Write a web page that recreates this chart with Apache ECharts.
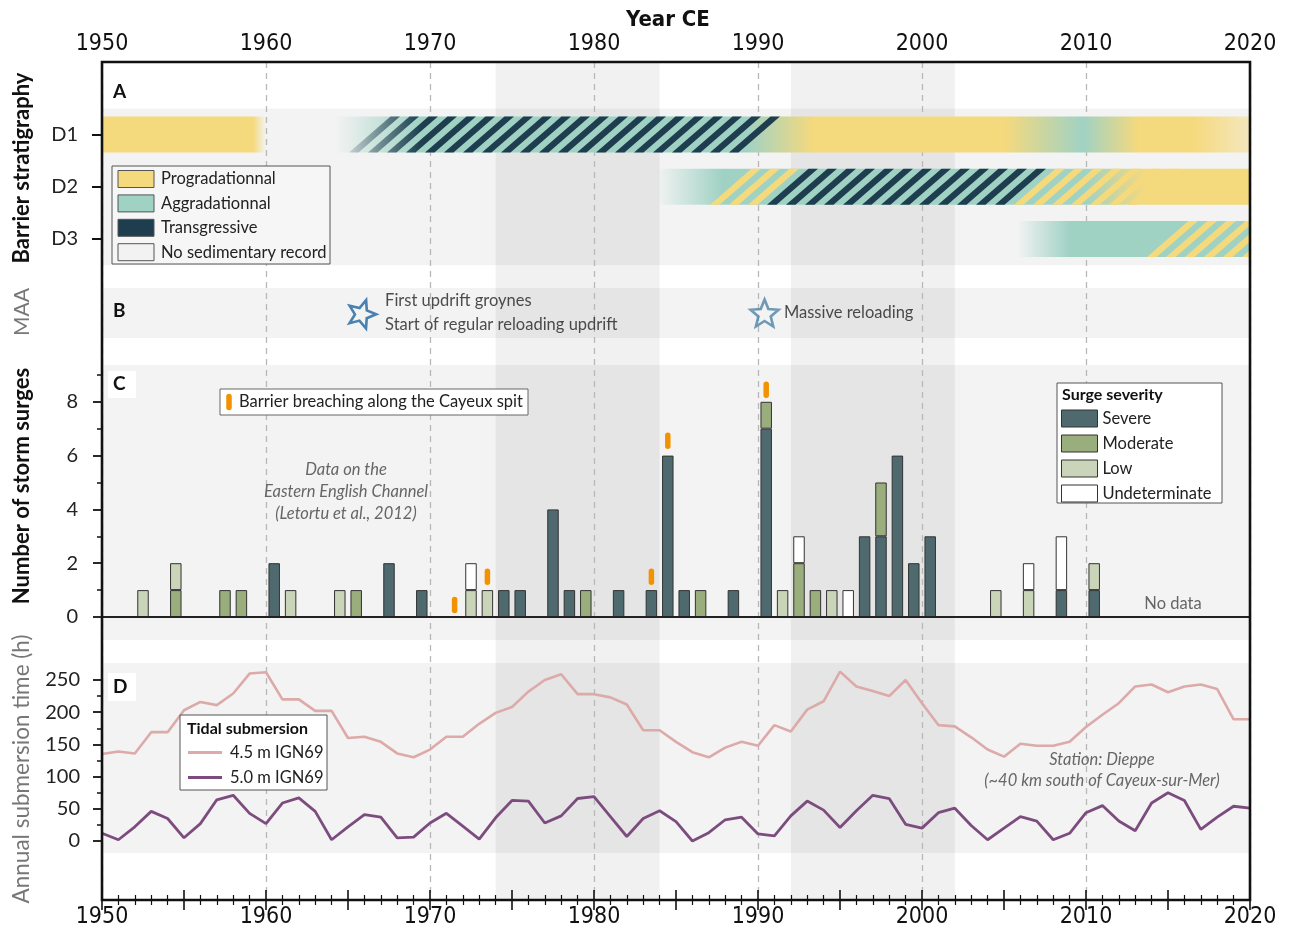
<!DOCTYPE html>
<html><head><meta charset="utf-8">
<script src="https://cdn.jsdelivr.net/npm/echarts@6/dist/echarts.min.js"></script>
<style>html,body{margin:0;padding:0;background:#fff}#c{width:1290px;height:929px}</style>
</head><body><div id="c"></div>
<script>
// ================= DATA =================
// Panel A: barrier stratigraphy (rows: 1=D1, 2=D2, 3=D3)
const stratRows = ['D1', 'D2', 'D3'];
// base colour ramps: [row, fromYear, toYear, stops [year, facies, opacity]]
const stratBase = [
  [1, 1950, 1960, [[1950, 'P', 1], [1959.2, 'P', 1], [1960, 'P', 0]]],
  [1, 1964.2, 2020, [[1964.2, 'A', 0], [1969.5, 'A', 1], [1989.3, 'A', 1], [1993.4, 'P', 1], [2005, 'P', 1], [2009.8, 'A', 1], [2013.2, 'P', 1], [2016.5, 'P', 1], [2020, 'P', 0.45]]],
  [2, 1983.8, 2020, [[1983.8, 'A', 0], [1987.8, 'A', 1], [2010, 'A', 1], [2013.6, 'P', 1], [2020, 'P', 1]]],
  [3, 2005.8, 2020, [[2005.8, 'A', 0], [2009, 'A', 1], [2020, 'A', 1]]]
];
// hatched intervals: [row, fromYear, toYear, stripe facies, fade-in years or null]
const stratHatch = [
  [1, 1964.2, 1988.7, 'T', [1964.2, 1969.5]],
  [2, 1986.3, 1990.5, 'P', null],
  [2, 1990.5, 2004.7, 'T', null],
  [2, 2004.7, 2013.5, 'P', null],
  [3, 2013.1, 2021, 'P', null]
];
const shadedPeriods = [[1974, 1984], [1992, 2002]];

// Panel B: management actions
const maaYears = [1965.85, 1990.4];
const maaLabels = ['First updrift groynes\nStart of regular reloading updrift', 'Massive reloading'];

// Panel C: storm surges per year (1950-2019)
const surgeYears = ['1950','1951','1952','1953','1954','1955','1956','1957','1958','1959',
 '1960','1961','1962','1963','1964','1965','1966','1967','1968','1969',
 '1970','1971','1972','1973','1974','1975','1976','1977','1978','1979',
 '1980','1981','1982','1983','1984','1985','1986','1987','1988','1989',
 '1990','1991','1992','1993','1994','1995','1996','1997','1998','1999',
 '2000','2001','2002','2003','2004','2005','2006','2007','2008','2009',
 '2010','2011','2012','2013','2014','2015','2016','2017','2018','2019'];
const severe = [
 0,0,0,0,0,0,0,0,0,0,
 2,0,0,0,0,0,0,2,0,1,
 0,0,0,0,1,1,0,4,1,0,
 0,1,0,1,6,1,0,0,1,0,
 7,0,0,0,0,0,3,3,6,2,
 3,0,0,0,0,0,0,0,1,0,
 1,0,0,0,0,0,0,0,0,0];
const moderate = [
 0,0,0,0,1,0,0,1,1,0,
 0,0,0,0,0,1,0,0,0,0,
 0,0,0,0,0,0,0,0,0,1,
 0,0,0,0,0,0,1,0,0,0,
 1,0,2,1,0,0,0,2,0,0,
 0,0,0,0,0,0,0,0,0,0,
 0,0,0,0,0,0,0,0,0,0];
const low = [
 0,0,1,0,1,0,0,0,0,0,
 0,1,0,0,1,0,0,0,0,0,
 0,0,1,1,0,0,0,0,0,0,
 0,0,0,0,0,0,0,0,0,0,
 0,1,0,0,1,0,0,0,0,0,
 0,0,0,0,1,0,1,0,0,0,
 1,0,0,0,0,0,0,0,0,0];
const undet = [
 0,0,0,0,0,0,0,0,0,0,
 0,0,0,0,0,0,0,0,0,0,
 0,0,1,0,0,0,0,0,0,0,
 0,0,0,0,0,0,0,0,0,0,
 0,0,1,0,0,1,0,0,0,0,
 0,0,0,0,0,0,1,0,2,0,
 0,0,0,0,0,0,0,0,0,0];
const breachYears = ['1971', '1973', '1983', '1984', '1990'];
const breachLevel = [0.45, 1.5, 1.5, 6.55, 8.45];

// Panel D: annual submersion time (h), Dieppe
const tideYears = [1950,1951,1952,1953,1954,1955,1956,1957,1958,1959,
 1960,1961,1962,1963,1964,1965,1966,1967,1968,1969,
 1970,1971,1972,1973,1974,1975,1976,1977,1978,1979,
 1980,1981,1982,1983,1984,1985,1986,1987,1988,1989,
 1990,1991,1992,1993,1994,1995,1996,1997,1998,1999,
 2000,2001,2002,2003,2004,2005,2006,2007,2008,2009,
 2010,2011,2012,2013,2014,2015,2016,2017,2018,2019,2020];
const sub45 = [135,139,136,169,169,203,216,211,229,260,
 262,220,220,202,202,160,162,154,136,130,
 142,162,162,182,199,208,232,250,259,228,
 228,223,212,172,172,154,138,130,145,154,
 148,180,170,204,217,263,240,233,225,250,
 214,180,178,161,142,131,151,148,148,154,
 177,196,214,240,243,231,240,243,236,189,189];
const sub50 = [12,2,22,46,35,5,27,64,71,43,
 27,59,67,46,2,22,41,37,5,6,
 28,43,23,3,36,63,62,28,39,66,
 69,38,7,35,47,30,0,13,33,37,
 11,8,39,62,48,21,47,71,66,26,
 20,44,51,24,2,20,38,31,2,12,
 44,55,31,16,59,75,63,18,37,54,51];

// ================= STYLE =================
const FONT = 'Lato, "Noto Sans", sans-serif';
const NARROW = '"Liberation Sans Narrow", "DejaVu Sans Condensed", Lato, sans-serif';
const FAC = {P: [245, 217, 125], A: [160, 210, 196], T: [30, 62, 80]};
const rgba = (k, a) => `rgba(${FAC[k][0]},${FAC[k][1]},${FAC[k][2]},${a})`;
const PANEL_BG = '#f3f3f3';
const BAR_FRAC = 0.69, STRIPE_P = 19, SLANT = 1.15;

const stratItems = [];
stratBase.forEach(b => stratItems.push({kind: 'base', row: b[0], from: b[1], to: b[2], stops: b[3]}));
stratHatch.forEach(h => stratItems.push({kind: 'hatch', row: h[0], from: h[1], to: h[2], stripe: h[3], fadeIn: h[4]}));

function renderStrat(params, api) {
  const it = stratItems[params.dataIndex];
  const row = it.row;
  const h = api.size([0, 1])[1] * BAR_FRAC;
  const yc = api.coord([1950, row])[1];
  const yt = yc - h / 2, yb = yc + h / 2;
  const px = y => api.coord([y, row])[0];
  if (it.kind === 'base') {
    const x1 = px(it.from), x2 = px(it.to);
    const stops = it.stops.map(s => ({offset: (s[0] - it.from) / (it.to - it.from), color: rgba(s[1], s[2])}));
    return {type: 'rect', shape: {x: x1, y: yt, width: x2 - x1, height: h},
      style: {fill: {type: 'linear', x: x1, y: 0, x2: x2, y2: 0, global: true, colorStops: stops}}};
  }
  const x0 = px(1950), xs = px(it.from), xe = px(it.to);
  const P = STRIPE_P, w = P / 2, sl = h * SLANT;
  let fill = rgba(it.stripe, 1);
  if (it.fadeIn) {
    fill = {type: 'linear', x: px(it.fadeIn[0]), y: 0, x2: px(it.fadeIn[1]), y2: 0, global: true,
      colorStops: [{offset: 0, color: rgba(it.stripe, 0)}, {offset: 1, color: rgba(it.stripe, 1)}]};
  }
  const children = [];
  const k0 = Math.ceil((xs - x0) / P - 1e-6), k1 = Math.ceil((xe - x0) / P - 1e-6);
  for (let k = k0; k < k1; k++) {
    const sx = x0 + k * P;
    children.push({type: 'polygon', shape: {points: [[sx, yb], [sx + w, yb], [sx + w + sl, yt], [sx + sl, yt]]}, style: {fill: fill}});
  }
  return {type: 'group', children: children};
}

function renderBreach(params, api) {
  const p = api.coord([api.value(0), api.value(1)]);
  const h = api.size([0, 0.41])[1];
  return {type: 'line', shape: {x1: p[0], y1: p[1] - h / 2, x2: p[0], y2: p[1] + h / 2},
    style: {stroke: '#f39200', lineWidth: 5.5, lineCap: 'round'}};
}

const nz = arr => arr.map(v => v === 0 ? '-' : v);
const STAR = 'path://M0,-10L2.6,-3.6L9.51,-3.09L4.2,1.4L5.88,8.09L0,4.4L-5.88,8.09L-4.2,1.4L-9.51,-3.09L-2.6,-3.6Z';

const yearTickAxis = (pos) => ({
  gridIndex: 4, type: 'value', position: pos, min: 1950, max: 2020, interval: 5, z: 6,
  axisLine: {show: false},
  axisTick: {show: true, inside: true, length: 10, lineStyle: {color: '#111', width: 1.6}},
  minorTick: {show: true, splitNumber: 5, length: 5, lineStyle: {color: '#111', width: 1.2}},
  axisLabel: {show: true, margin: 6, fontSize: 23, fontFamily: NARROW, color: '#111',
    formatter: v => (v % 10 === 0 ? String(v) : '')},
  splitLine: {show: false}
});

const textEl = (x, y, text, opt) => Object.assign({type: 'text', x: x, y: y, z: 6,
  style: Object.assign({text: text, fontFamily: FONT, fontSize: 16.5, fill: '#222', textAlign: 'left', textVerticalAlign: 'middle'}, opt || {})});
const rectEl = (x, y, w, h, fill, stroke) => ({type: 'rect', z: 4, shape: {x: x, y: y, width: w, height: h},
  style: {fill: fill, stroke: stroke || '#555', lineWidth: 1}});

const legendA = [['Progradationnal', rgba('P', 1)], ['Aggradationnal', rgba('A', 1)], ['Transgressive', rgba('T', 1)], ['No sedimentary record', '#f2f2f2']];

const graphics = [
  textEl(668, 20, 'Year CE', {fontFamily: NARROW, fontSize: 22, fontWeight: 'bold', fill: '#111', textAlign: 'center'}),
  Object.assign(textEl(22, 168, 'Barrier stratigraphy', {fontSize: 22, fontWeight: 'bold', fill: '#111', textAlign: 'center'}), {rotation: Math.PI / 2}),
  Object.assign(textEl(22, 312, 'MAA', {fontSize: 21, fill: '#777', textAlign: 'center'}), {rotation: Math.PI / 2}),
  Object.assign(textEl(22, 486, 'Number of storm surges', {fontSize: 22, fontWeight: 'bold', fill: '#111', textAlign: 'center'}), {rotation: Math.PI / 2}),
  Object.assign(textEl(22, 769, 'Annual submersion time (h)', {fontSize: 22.5, fill: '#777', textAlign: 'center'}), {rotation: Math.PI / 2}),
  // panel letters
  textEl(113, 92, 'A', {fontSize: 19, fontWeight: 'bold', fill: '#111'}),
  textEl(113, 311, 'B', {fontSize: 19, fontWeight: 'bold', fill: '#111'}),
  {type: 'rect', z: 4, shape: {x: 108, y: 371, width: 28, height: 27}, style: {fill: '#fff'}},
  textEl(113, 384, 'C', {fontSize: 19, fontWeight: 'bold', fill: '#111'}),
  {type: 'rect', z: 4, shape: {x: 108, y: 673, width: 28, height: 28}, style: {fill: '#fff'}},
  textEl(113, 687, 'D', {fontSize: 19, fontWeight: 'bold', fill: '#111'}),
  // legend A
  rectEl(112, 166, 218, 98, '#f6f6f6', '#555')
];
legendA.forEach((l, i) => {
  const cy = 179 + i * 24.4;
  graphics.push(Object.assign(rectEl(118, cy - 8.5, 36, 17, l[1], '#555'), {z: 5}));
  graphics.push(textEl(161, cy, l[0], {fontSize: 16.5}));
});
graphics.push(
  // breach legend
  rectEl(220, 389, 308, 26, '#fff', '#666'),
  {type: 'line', z: 6, shape: {x1: 229, y1: 396.5, x2: 229, y2: 407.5}, style: {stroke: '#f39200', lineWidth: 5.5, lineCap: 'round'}},
  textEl(239, 402, 'Barrier breaching along the Cayeux spit', {fontSize: 16.5}),
  // surge legend box
  rectEl(1057, 383, 165, 120, '#fff', '#555'),
  textEl(1062, 395, 'Surge severity', {fontSize: 16, fontWeight: 'bold', fill: '#111'}),
  // tidal legend box
  rectEl(180, 715, 147, 75, '#fff', '#555'),
  textEl(187, 729, 'Tidal submersion', {fontSize: 16, fontWeight: 'bold', fill: '#111'}),
  // annotations
  textEl(346, 492, 'Data on the\nEastern English Channel\n(Letortu et al., 2012)', {fontSize: 16.5, fontStyle: 'italic', fill: '#666', textAlign: 'center', lineHeight: 22}),
  textEl(1173, 604, 'No data', {fontSize: 16.5, fill: '#666', textAlign: 'center'}),
  textEl(1102, 770, 'Station: Dieppe\n(~40 km south of Cayeux-sur-Mer)', {fontSize: 16.5, fontStyle: 'italic', fill: '#666', textAlign: 'center', lineHeight: 21})
);

const option = {
  animation: false,
  backgroundColor: '#fff',
  textStyle: {fontFamily: FONT},
  grid: [
    {left: 102, right: 40, top: 108.4, height: 156.75, show: true, backgroundColor: PANEL_BG, borderWidth: 0, z: 0},
    {left: 102, right: 40, top: 288, height: 50, show: true, backgroundColor: PANEL_BG, borderWidth: 0, z: 0},
    {left: 102, right: 40, top: 365, height: 275, show: true, backgroundColor: PANEL_BG, borderWidth: 0, z: 0},
    {left: 102, right: 40, top: 663, height: 190, show: true, backgroundColor: PANEL_BG, borderWidth: 0, z: 0},
    {left: 102, right: 40, top: 62, height: 838, show: true, backgroundColor: 'transparent', borderColor: '#111', borderWidth: 2.6, z: 10}
  ],
  xAxis: [
    {gridIndex: 0, type: 'value', min: 1950, max: 2020, show: false},
    {gridIndex: 1, type: 'value', min: 1950, max: 2020, show: false},
    {gridIndex: 2, type: 'category', data: surgeYears, boundaryGap: true, z: 4,
      axisLine: {show: true, onZero: true, lineStyle: {color: '#222', width: 2}},
      axisTick: {show: false}, axisLabel: {show: false}, splitLine: {show: false}},
    {gridIndex: 3, type: 'value', min: 1950, max: 2020, show: false},
    yearTickAxis('top'),
    yearTickAxis('bottom'),
    {gridIndex: 4, type: 'value', min: 1950, max: 2020, interval: 10, position: 'bottom', z: 2,
      axisLine: {show: false}, axisTick: {show: false}, axisLabel: {show: false},
      splitLine: {show: true, lineStyle: {color: '#b8b8b8', width: 1.3, type: [6, 5]}}}
  ],
  yAxis: [
    {gridIndex: 0, type: 'value', position: 'left', min: 0.5, max: 3.5, inverse: true, z: 6,
      axisLine: {show: false}, splitLine: {show: false},
      axisTick: {show: true, customValues: [1, 2, 3], length: 10, lineStyle: {color: '#111', width: 2}},
      axisLabel: {show: true, customValues: [1, 2, 3], margin: 24, fontSize: 20, color: '#222', fontFamily: FONT,
        formatter: v => stratRows[Math.round(v) - 1] || ''}},
    {gridIndex: 1, type: 'value', min: 0, max: 1, show: false},
    {gridIndex: 2, type: 'value', position: 'left', min: -0.855, max: 9.368, z: 6,
      axisLine: {show: false}, splitLine: {show: false},
      axisTick: {show: true, customValues: [0, 2, 4, 6, 8], length: 9, lineStyle: {color: '#111', width: 1.8}},
      axisLabel: {show: true, customValues: [0, 2, 4, 6, 8], margin: 24, fontSize: 20, color: '#222', fontFamily: FONT}},
    {gridIndex: 2, type: 'value', position: 'left', offset: 0, min: -0.855, max: 9.368, z: 6,
      axisLine: {show: false}, splitLine: {show: false}, axisLabel: {show: false},
      axisTick: {show: true, customValues: [1, 3, 5, 7, 9], length: 5, lineStyle: {color: '#111', width: 1.5}}},
    {gridIndex: 3, type: 'value', position: 'left', min: -18.6, max: 276.4, z: 6,
      axisLine: {show: false}, splitLine: {show: false},
      axisTick: {show: true, customValues: [0, 50, 100, 150, 200, 250], length: 9, lineStyle: {color: '#111', width: 1.8}},
      axisLabel: {show: true, customValues: [0, 50, 100, 150, 200, 250], margin: 22, fontSize: 20, color: '#222', fontFamily: FONT}},
    {gridIndex: 3, type: 'value', position: 'left', offset: 0, min: -18.6, max: 276.4, z: 6,
      axisLine: {show: false}, splitLine: {show: false}, axisLabel: {show: false},
      axisTick: {show: true, customValues: [25, 75, 125, 175, 225], length: 5, lineStyle: {color: '#111', width: 1.5}}},
    {gridIndex: 4, type: 'value', min: 0, max: 1, show: false}
  ],
  legend: [
    {data: ['Severe', 'Moderate', 'Low', 'Undeterminate'], orient: 'vertical', left: 1061, top: 409.5,
      itemWidth: 36, itemHeight: 17, itemGap: 7, icon: 'rect', z: 6, padding: 0,
      itemStyle: {borderColor: '#333', borderWidth: 1},
      textStyle: {fontSize: 16.5, color: '#222', fontFamily: FONT}},
    {data: ['4.5 m IGN69', '5.0 m IGN69'], orient: 'vertical', left: 188, top: 744,
      itemWidth: 34, itemHeight: 3, itemGap: 8, icon: 'rect', z: 6, padding: 0,
      textStyle: {fontSize: 16.5, color: '#222', fontFamily: FONT, padding: [0, 0, 0, 3]}}
  ],
  graphic: {elements: graphics},
  series: [
    {name: 'shade', type: 'line', xAxisIndex: 4, yAxisIndex: 6, data: [], z: 1, silent: true,
      markArea: {silent: true, itemStyle: {color: 'rgba(0,0,0,0.055)'},
        data: shadedPeriods.map(p => [{xAxis: p[0]}, {xAxis: p[1]}])}},
    {name: 'strat', type: 'custom', xAxisIndex: 0, yAxisIndex: 0, z: 3, clip: true, silent: true,
      renderItem: renderStrat, data: stratItems.map(it => [it.from, it.row, it.to])},
    {name: 'MAA', type: 'scatter', xAxisIndex: 1, yAxisIndex: 1, z: 3, symbol: STAR, symbolSize: [28, 27],
      data: maaYears.map((y, i) => ({value: [y, 0.5], symbolRotate: i === 0 ? -18 : 0,
        itemStyle: {color: 'rgba(0,0,0,0)', borderColor: i === 0 ? '#1f64a0' : '#4c83a6', borderWidth: 2.6},
        label: {show: true, position: 'right', distance: 4, formatter: maaLabels[i], fontSize: 16.5, color: '#222',
          fontFamily: FONT, lineHeight: 24, align: 'left'}}))},
    {name: 'Severe', type: 'bar', stack: 'surge', xAxisIndex: 2, yAxisIndex: 2, z: 3, barWidth: '70%',
      itemStyle: {color: '#4e6a6f', borderColor: '#333', borderWidth: 1}, data: nz(severe)},
    {name: 'Moderate', type: 'bar', stack: 'surge', xAxisIndex: 2, yAxisIndex: 2, z: 3, barWidth: '70%',
      itemStyle: {color: '#9aad7c', borderColor: '#333', borderWidth: 1}, data: nz(moderate)},
    {name: 'Low', type: 'bar', stack: 'surge', xAxisIndex: 2, yAxisIndex: 2, z: 3, barWidth: '70%',
      itemStyle: {color: '#c9d4b8', borderColor: '#333', borderWidth: 1}, data: nz(low)},
    {name: 'Undeterminate', type: 'bar', stack: 'surge', xAxisIndex: 2, yAxisIndex: 2, z: 3, barWidth: '70%',
      itemStyle: {color: '#ffffff', borderColor: '#333', borderWidth: 1}, data: nz(undet)},
    {name: 'breach', type: 'custom', xAxisIndex: 2, yAxisIndex: 2, z: 4, renderItem: renderBreach,
      data: breachYears.map((y, i) => [y, breachLevel[i]])},
    {name: '4.5 m IGN69', type: 'line', xAxisIndex: 3, yAxisIndex: 4, z: 3, showSymbol: false,
      color: '#dcaaa8', lineStyle: {color: '#dcaaa8', width: 2.6},
      data: tideYears.map((y, i) => [y, sub45[i]])},
    {name: '5.0 m IGN69', type: 'line', xAxisIndex: 3, yAxisIndex: 4, z: 3, showSymbol: false,
      color: '#7d4c7e', lineStyle: {color: '#7d4c7e', width: 2.8},
      data: tideYears.map((y, i) => [y, sub50[i]])}
  ]
};

const chart = echarts.init(document.getElementById('c'), null, {renderer: 'canvas'});
chart.setOption(option);
</script>
</body></html>
